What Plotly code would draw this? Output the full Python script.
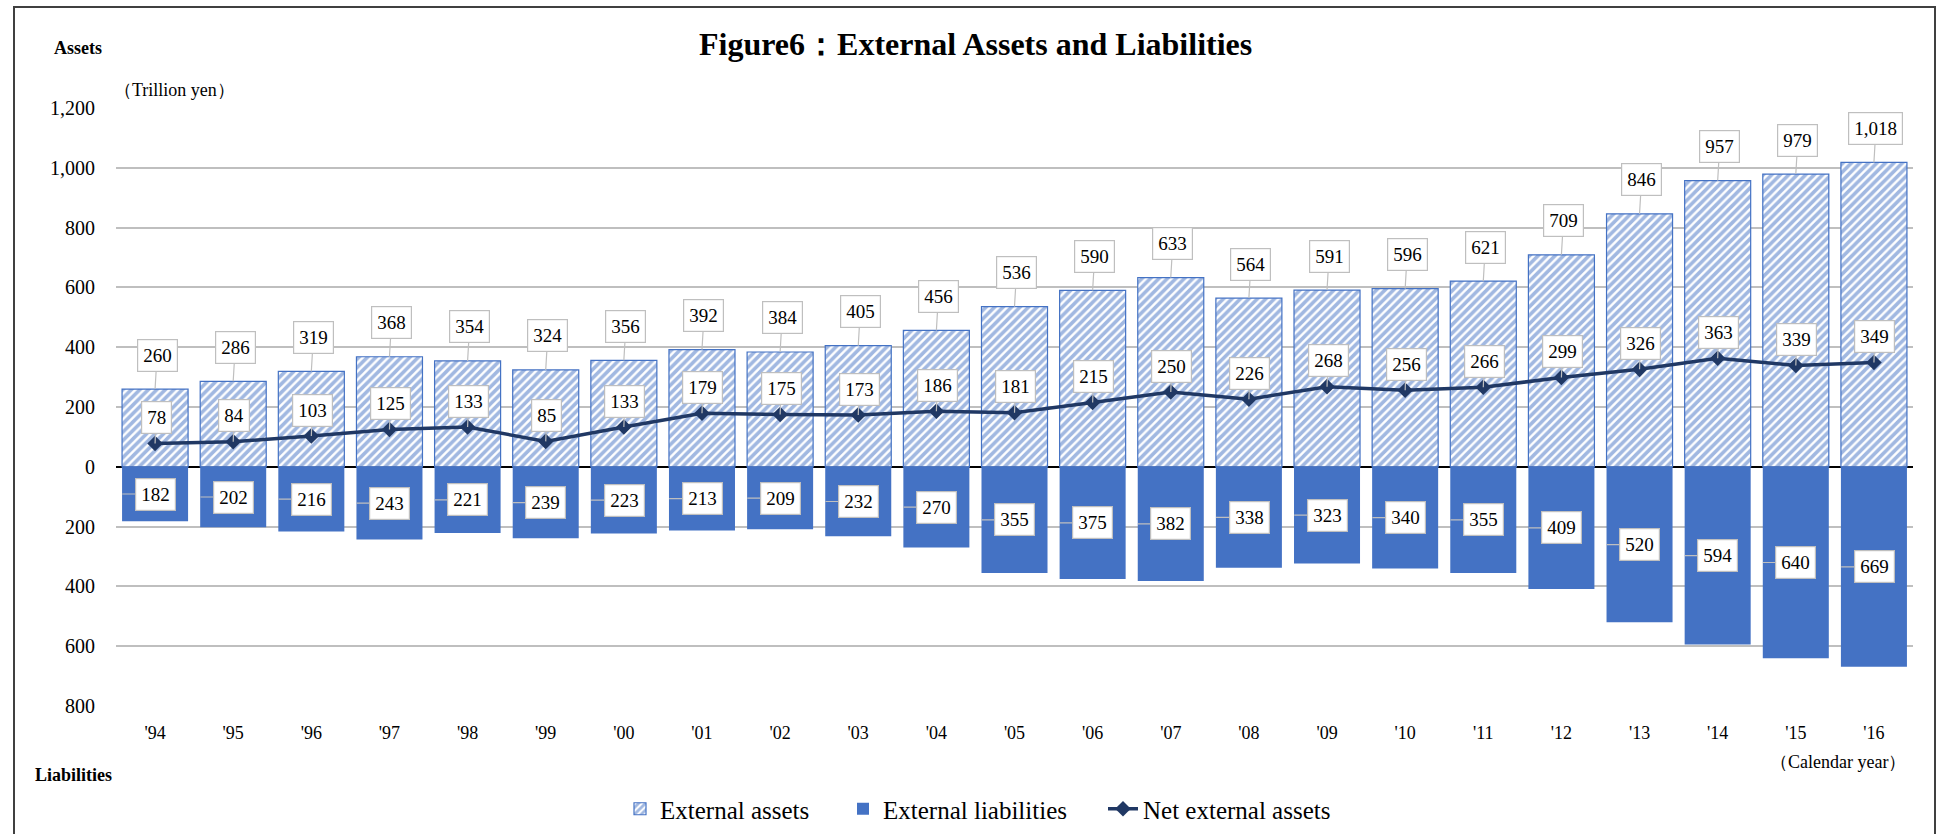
import plotly.graph_objects as go

years = ["'94", "'95", "'96", "'97", "'98", "'99", "'00", "'01", "'02", "'03", "'04", "'05",
         "'06", "'07", "'08", "'09", "'10", "'11", "'12", "'13", "'14", "'15", "'16"]
assets = [260, 286, 319, 368, 354, 324, 356, 392, 384, 405, 456, 536, 590, 633, 564, 591,
          596, 621, 709, 846, 957, 979, 1018]
liabilities = [182, 202, 216, 243, 221, 239, 223, 213, 209, 232, 270, 355, 375, 382, 338,
               323, 340, 355, 409, 520, 594, 640, 669]
net_assets = [78, 84, 103, 125, 133, 85, 133, 179, 175, 173, 186, 181, 215, 250, 226, 268,
              256, 266, 299, 326, 363, 339, 349]
y_tick_vals = [1200, 1000, 800, 600, 400, 200, 0, -200, -400, -600, -800]
y_tick_text = ["1,200", "1,000", "800", "600", "400", "200", "0", "200", "400", "600", "800"]

W, H = 1942, 834
L, R, T, B = 116, 29, 108, 128
PW, PH = W - L - R, H - T - B

def px_x(p):
    return (p - L) / PW

def px_y(p):
    return (H - B - p) / PH

BLUE = "#4472C4"
NAVY = "#203864"
FONT = "Liberation Serif"
xs = list(range(len(years)))

fig = go.Figure()
fig.add_trace(go.Bar(
    x=xs, y=assets, name="External assets", width=0.845, legend="legend",
    marker=dict(color="white", line=dict(color=BLUE, width=1.2),
                pattern=dict(shape="/", fgcolor=BLUE, bgcolor="white", size=6, solidity=0.6)),
))
fig.add_trace(go.Bar(
    x=xs, y=[-v for v in liabilities], name="External liabilities", width=0.845, legend="legend2",
    marker=dict(color=BLUE, line=dict(color=BLUE, width=0)),
))
fig.add_trace(go.Scatter(
    x=xs, y=net_assets, name="Net external assets", mode="lines+markers", legend="legend3",
    line=dict(color=NAVY, width=3.5),
    marker=dict(symbol="diamond", size=12, color=NAVY),
))

ann = []
box = dict(bgcolor="white", bordercolor="#BFBFBF", borderwidth=1.2, borderpad=5,
           font=dict(family=FONT, size=19, color="black"),
           showarrow=True, arrowhead=0, arrowcolor="#BFBFBF", arrowwidth=1.2, standoff=0)
for i, v in enumerate(assets):
    ann.append(dict(x=i, y=v, text=f"{v:,}", ax=2, ay=-34, **box))
for i, v in enumerate(net_assets):
    ann.append(dict(x=i, y=v, text=f"{v:,}", ax=1, ay=-26, **box))
for i, v in enumerate(liabilities):
    ann.append(dict(x=i - 0.42, y=-v / 2, text=f"{v:,}", ax=33, ay=0, **box))

txt = dict(xref="paper", yref="paper", showarrow=False, font=dict(family=FONT, size=18, color="black"))
ann.append(dict(text="<b>Figure6：External Assets and Liabilities</b>", x=px_x(975), y=px_y(44),
                xanchor="center", yanchor="middle",
                **{**txt, "font": dict(family=FONT, size=32, color="black")}))
ann.append(dict(text="<b>Assets</b>", x=px_x(52), y=px_y(48), xanchor="left", yanchor="middle", **txt))
ann.append(dict(text="<b>Liabilities</b>", x=px_x(33), y=px_y(775), xanchor="left", yanchor="middle", **txt))
ann.append(dict(text="（Trillion yen）", x=px_x(112), y=px_y(90), xanchor="left", yanchor="middle", **txt))
ann.append(dict(text="（Calendar year）", x=px_x(1908), y=px_y(762), xanchor="right", yanchor="middle", **txt))

shapes = [dict(type="rect", xref="paper", yref="paper",
               x0=px_x(14), x1=px_x(1935), y0=px_y(845), y1=px_y(7),
               line=dict(color="#404040", width=2), fillcolor="rgba(0,0,0,0)", layer="below")]

leg = dict(orientation="h", xanchor="left", yanchor="middle", y=px_y(809),
           font=dict(family=FONT, size=25, color="black"), bgcolor="rgba(0,0,0,0)")

fig.update_layout(
    width=W, height=H, margin=dict(l=L, r=R, t=T, b=B, autoexpand=False),
    paper_bgcolor="white", plot_bgcolor="white",
    barmode="overlay", bargap=0.155,
    font=dict(family=FONT, size=18, color="black"),
    annotations=ann, shapes=shapes,
    legend=dict(x=px_x(620), **leg),
    legend2=dict(x=px_x(843), **leg),
    legend3=dict(x=px_x(1103), **leg),
    showlegend=True,
)
fig.update_xaxes(range=[-0.5, len(years) - 0.5], tickmode="array", tickvals=xs, ticktext=years,
                 showgrid=False, zeroline=False, showline=False,
                 ticks="outside", ticklen=10, tickcolor="rgba(0,0,0,0)",
                 tickfont=dict(family=FONT, size=18))
fig.update_yaxes(range=[-800, 1200], tickmode="array", tickvals=y_tick_vals, ticktext=y_tick_text,
                 showgrid=True, gridcolor="#BFBFBF", gridwidth=1.5,
                 zeroline=True, zerolinecolor="black", zerolinewidth=1.5, showline=False,
                 ticks="outside", ticklen=16, tickcolor="rgba(0,0,0,0)",
                 tickfont=dict(family=FONT, size=20))

fig.write_html("out.html", config={"displayModeBar": False},
               post_script="document.body.style.margin='0';document.body.style.overflow='hidden';")
